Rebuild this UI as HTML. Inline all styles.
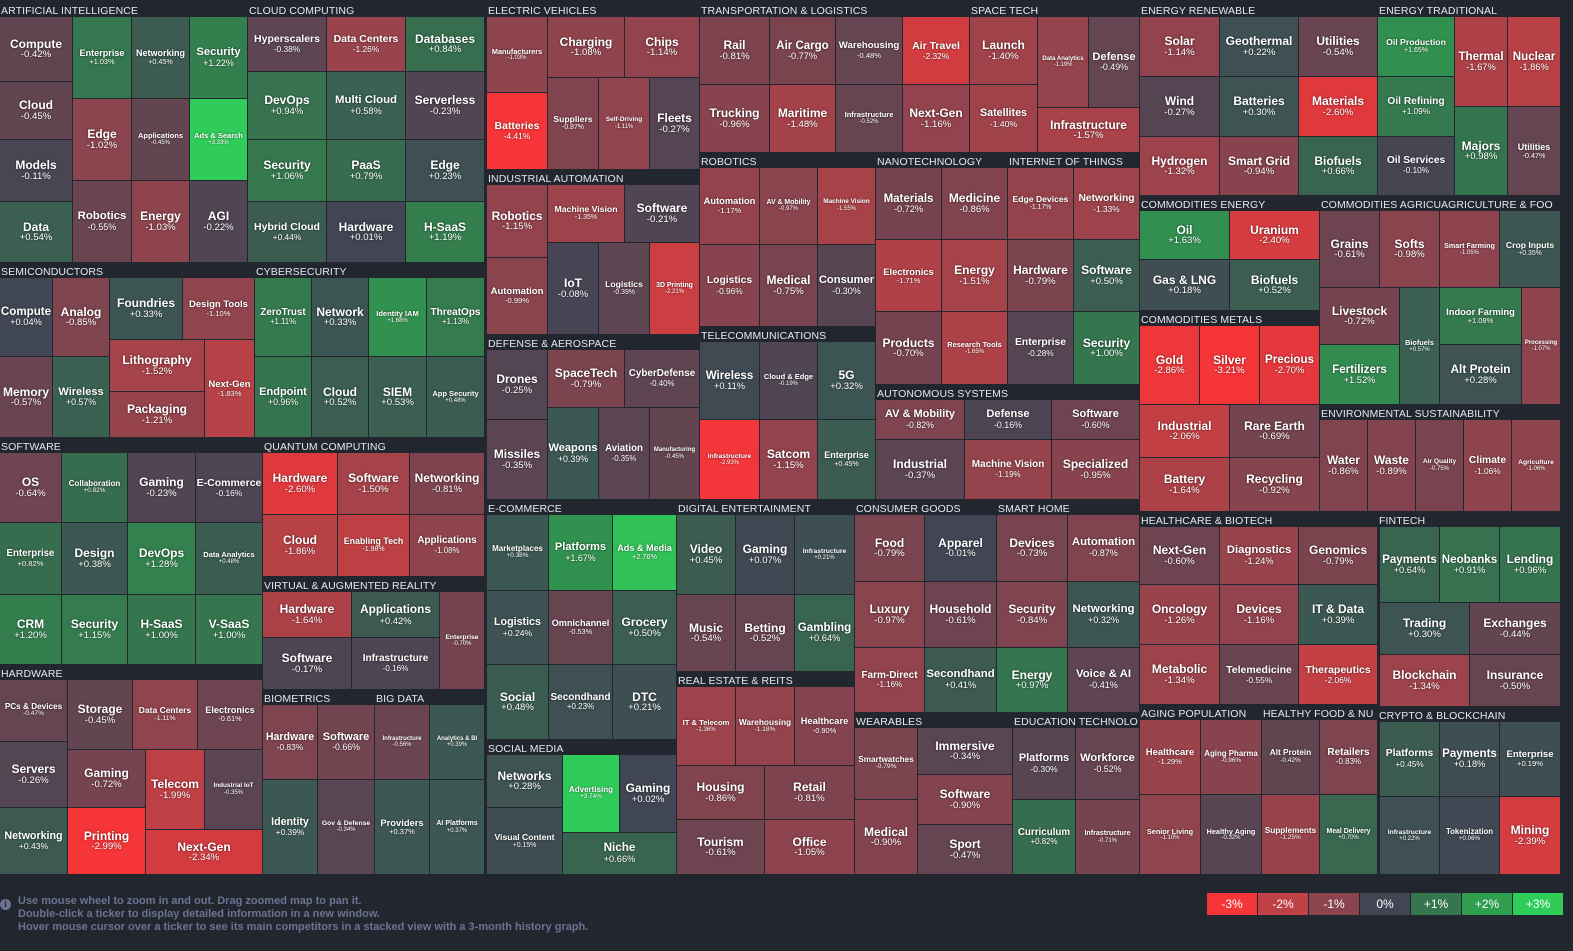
<!DOCTYPE html>
<html><head><meta charset="utf-8"><title>Sector Heatmap</title>
<style>
html,body{margin:0;padding:0;background:#22262f;width:1573px;height:951px;overflow:hidden;font-family:"Liberation Sans",sans-serif;}
#map{position:absolute;left:0;top:0;width:1573px;height:880px;}
.hdr{position:absolute;color:#e6e8ee;font-size:10.5px;line-height:15px;white-space:nowrap;overflow:hidden;letter-spacing:0.1px;}
.tile{position:absolute;display:flex;flex-direction:column;align-items:center;justify-content:center;color:#fff;text-align:center;overflow:hidden;text-shadow:0 0 2px rgba(0,0,0,0.6);box-sizing:border-box;}
.tile .n{font-weight:bold;white-space:nowrap;line-height:1.05;}
.tile .v{white-space:nowrap;line-height:1.05;}
#foot{position:absolute;left:18px;top:895px;color:#6c7391;font-size:11px;font-weight:bold;line-height:13px;}
#info{position:absolute;left:0px;top:899px;width:11px;height:11px;border-radius:50%;background:#6c7391;color:#22262f;font-size:9px;font-weight:bold;text-align:center;line-height:11px;font-family:"Liberation Serif",serif;}
#legend{position:absolute;left:1207px;top:893px;display:flex;gap:1px;}
#legend div{width:50px;height:22px;color:#fff;font-size:12px;text-align:center;line-height:22px;}
</style></head><body>
<div id="map"></div>
<div id="info">i</div>
<div id="foot">Use mouse wheel to zoom in and out. Drag zoomed map to pan it.<br>Double-click a ticker to display detailed information in a new window.<br>Hover mouse cursor over a ticker to see its main competitors in a stacked view with a 3-month history graph.</div>
<div id="legend"></div>
<script>
const sectorNames=["ARTIFICIAL INTELLIGENCE","CLOUD COMPUTING","SEMICONDUCTORS","CYBERSECURITY","SOFTWARE","QUANTUM COMPUTING","HARDWARE","VIRTUAL & AUGMENTED REALITY","BIOMETRICS","BIG DATA","ELECTRIC VEHICLES","INDUSTRIAL AUTOMATION","DEFENSE & AEROSPACE","E-COMMERCE","SOCIAL MEDIA","DIGITAL ENTERTAINMENT","REAL ESTATE & REITS","TRANSPORTATION & LOGISTICS","SPACE TECH","ROBOTICS","NANOTECHNOLOGY","INTERNET OF THINGS","TELECOMMUNICATIONS","AUTONOMOUS SYSTEMS","CONSUMER GOODS","SMART HOME","WEARABLES","EDUCATION TECHNOLO","ENERGY RENEWABLE","ENERGY TRADITIONAL","COMMODITIES ENERGY","COMMODITIES METALS","COMMODITIES AGRICU","AGRICULTURE & FOO","ENVIRONMENTAL SUSTAINABILITY","HEALTHCARE & BIOTECH","FINTECH","AGING POPULATION","HEALTHY FOOD & NU","CRYPTO & BLOCKCHAIN"];
const sectorBoxes=[[0,2],[248,2],[0,263],[255,263],[0,438],[263,438],[0,665],[263,577],[263,690],[375,690],[487,2],[487,170],[487,335],[487,500],[487,740],[677,500],[677,672],[700,2],[970,2],[700,153],[876,153],[1008,153],[700,327],[876,385],[855,500],[997,500],[855,713],[1013,713],[1140,2],[1378,2],[1140,196],[1140,311],[1320,196],[1440,196],[1320,405],[1140,512],[1378,512],[1140,705],[1262,705],[1378,707]];
const legendLabels=["-3%","-2%","-1%","0%","+1%","+2%","+3%"];
const legendValues=[-3,-2,-1,0,1,2,3];
const tileNames=[
"Compute","Cloud","Models","Data","Enterprise","Edge","Robotics","Networking","Applications","Energy","Security","Ads & Search","AGI",
"Hyperscalers","DevOps","Security","Hybrid Cloud","Data Centers","Multi Cloud","PaaS","Hardware","Databases","Serverless","Edge","H-SaaS",
"Compute","Memory","Analog","Wireless","Foundries","Design Tools","Lithography","Packaging","Next-Gen",
"ZeroTrust","Network","Identity IAM","ThreatOps","Endpoint","Cloud","SIEM","App Security",
"OS","Collaboration","Gaming","E-Commerce","Enterprise","Design","DevOps","Data Analytics","CRM","Security","H-SaaS","V-SaaS",
"Hardware","Software","Networking","Cloud","Enabling Tech","Applications",
"PCs & Devices","Servers","Networking","Storage","Data Centers","Electronics","Gaming","Printing","Telecom","Industrial IoT","Next-Gen",
"Hardware","Software","Applications","Infrastructure","Enterprise",
"Hardware","Software","Identity","Gov & Defense",
"Infrastructure","Analytics & BI","Providers","AI Platforms",
"Manufacturers","Batteries","Charging","Chips","Suppliers","Self-Driving","Fleets",
"Robotics","Automation","Machine Vision","Software","IoT","Logistics","3D Printing",
"Drones","Missiles","SpaceTech","CyberDefense","Weapons","Aviation","Manufacturing",
"Marketplaces","Platforms","Ads & Media","Logistics","Omnichannel","Grocery","Social","Secondhand","DTC",
"Networks","Visual Content","Advertising","Gaming","Niche",
"Video","Gaming","Infrastructure","Music","Betting","Gambling",
"IT & Telecom","Warehousing","Healthcare","Housing","Retail","Tourism","Office",
"Rail","Trucking","Air Cargo","Maritime","Warehousing","Infrastructure","Air Travel","Next-Gen",
"Launch","Satellites","Data Analytics","Defense","Infrastructure",
"Automation","AV & Mobility","Machine Vision","Logistics","Medical","Consumer",
"Materials","Medicine","Electronics","Energy","Products","Research Tools",
"Edge Devices","Networking","Hardware","Software","Enterprise","Security",
"Wireless","Cloud & Edge","5G","Infrastructure","Satcom","Enterprise",
"AV & Mobility","Defense","Software","Industrial","Machine Vision","Specialized",
"Food","Apparel","Luxury","Household","Farm-Direct","Secondhand",
"Devices","Automation","Security","Networking","Energy","Voice & AI",
"Smartwatches","Medical","Immersive","Software","Sport",
"Platforms","Workforce","Curriculum","Infrastructure",
"Solar","Geothermal","Utilities","Wind","Batteries","Materials","Hydrogen","Smart Grid","Biofuels",
"Oil Production","Oil Refining","Oil Services","Thermal","Nuclear","Majors","Utilities",
"Oil","Uranium","Gas & LNG","Biofuels",
"Gold","Silver","Precious","Industrial","Rare Earth","Battery","Recycling",
"Grains","Softs","Livestock","Fertilizers","Biofuels",
"Smart Farming","Crop Inputs","Indoor Farming","Alt Protein","Processing",
"Water","Waste","Air Quality","Climate","Agriculture",
"Next-Gen","Diagnostics","Genomics","Oncology","Devices","IT & Data","Metabolic","Telemedicine","Therapeutics",
"Payments","Neobanks","Lending","Trading","Exchanges","Blockchain","Insurance",
"Healthcare","Aging Pharma","Senior Living","Healthy Aging",
"Alt Protein","Retailers","Supplements","Meal Delivery",
"Platforms","Payments","Enterprise","Infrastructure","Tokenization","Mining"];
const tileChanges=[
-0.42,-0.45,-0.11,0.54,1.03,-1.02,-0.55,0.45,-0.45,-1.03,1.22,3.33,-0.22,
-0.38,0.94,1.06,0.44,-1.26,0.58,0.79,0.01,0.84,-0.23,0.23,1.19,
0.04,-0.57,-0.85,0.57,0.33,-1.10,-1.52,-1.21,-1.83,
1.11,0.33,1.68,1.13,0.96,0.52,0.53,0.48,
-0.64,0.82,-0.23,-0.16,0.82,0.38,1.28,0.48,1.20,1.15,1.00,1.00,
-2.60,-1.50,-0.81,-1.86,-1.98,-1.08,
-0.47,-0.26,0.43,-0.45,-1.11,-0.61,-0.72,-2.99,-1.99,-0.35,-2.34,
-1.64,-0.17,0.42,-0.16,-0.70,
-0.83,-0.66,0.39,-0.34,
-0.56,0.39,0.37,0.37,
-1.03,-4.41,-1.08,-1.14,-0.87,-1.11,-0.27,
-1.15,-0.99,-1.35,-0.21,-0.08,-0.39,-2.21,
-0.25,-0.35,-0.79,-0.40,0.39,-0.35,-0.45,
0.38,1.67,2.76,0.24,-0.53,0.50,0.48,0.23,0.21,
0.28,0.15,3.74,0.02,0.66,
0.45,0.07,0.21,-0.54,-0.52,0.64,
-1.36,-1.18,-0.90,-0.86,-0.81,-0.61,-1.05,
-0.81,-0.96,-0.77,-1.48,-0.48,-0.52,-2.32,-1.16,
-1.40,-1.40,-1.19,-0.49,-1.57,
-1.17,-0.97,-1.55,-0.96,-0.75,-0.30,
-0.72,-0.86,-1.71,-1.51,-0.70,-1.65,
-1.17,-1.33,-0.79,0.50,-0.28,1.00,
0.11,-0.19,0.32,-2.93,-1.15,0.45,
-0.82,-0.16,-0.60,-0.37,-1.19,-0.95,
-0.79,-0.01,-0.97,-0.61,-1.16,0.41,
-0.73,-0.87,-0.84,0.32,0.97,-0.41,
-0.79,-0.90,-0.34,-0.90,-0.47,
-0.30,-0.52,0.82,-0.71,
-1.14,0.22,-0.54,-0.27,0.30,-2.60,-1.32,-0.94,0.66,
1.65,1.09,-0.10,-1.67,-1.86,0.98,-0.47,
1.63,-2.40,0.18,0.52,
-2.86,-3.21,-2.70,-2.06,-0.69,-1.64,-0.92,
-0.61,-0.98,-0.72,1.52,0.57,
-1.05,0.35,1.08,0.28,-1.07,
-0.86,-0.89,-0.75,-1.06,-1.06,
-0.60,-1.24,-0.79,-1.26,-1.16,0.39,-1.34,-0.55,-2.06,
0.64,0.91,0.96,0.30,-0.44,-1.34,-0.50,
-1.29,-0.96,-1.10,-0.32,
-0.42,-0.83,-1.25,0.70,
0.45,0.18,0.19,0.22,0.06,-2.39];
const tileBoxes=[
[0,17,73,82],[0,82,73,140],[0,140,73,202],[0,202,73,263],[73,17,132,99],[73,99,132,181],[73,181,132,263],[132,17,190,99],[132,99,190,181],[132,181,190,263],[190,17,248,99],[190,99,248,181],[190,181,248,263],
[248,17,327,72],[248,72,327,140],[248,140,327,202],[248,202,327,263],[327,17,406,72],[327,72,406,140],[327,140,406,202],[327,202,406,263],[406,17,485,72],[406,72,485,140],[406,140,485,202],[406,202,485,263],
[0,278,53,357],[0,357,53,438],[53,278,110,357],[53,357,110,438],[110,278,183,340],[183,278,255,340],[110,340,205,392],[110,392,205,438],[205,340,255,438],
[255,278,312,357],[312,278,369,357],[369,278,427,357],[427,278,485,357],[255,357,312,438],[312,357,369,438],[369,357,427,438],[427,357,485,438],
[0,453,62,523],[62,453,128,523],[128,453,196,523],[196,453,263,523],[0,523,62,595],[62,523,128,595],[128,523,196,595],[196,523,263,595],[0,595,62,665],[62,595,128,665],[128,595,196,665],[196,595,263,665],
[263,453,338,515],[338,453,410,515],[410,453,485,515],[263,515,338,577],[338,515,410,577],[410,515,485,577],
[0,680,68,742],[0,742,68,808],[0,808,68,875],[68,680,133,750],[133,680,198,750],[198,680,263,750],[68,750,146,808],[68,808,146,875],[146,750,205,830],[205,750,263,830],[146,830,263,875],
[263,592,352,638],[263,638,352,690],[352,592,440,638],[352,638,440,690],[440,592,485,690],
[263,705,318,780],[318,705,375,780],[263,780,318,875],[318,780,375,875],
[375,705,430,780],[430,705,485,780],[375,780,430,875],[430,780,485,875],
[487,17,548,93],[487,93,548,170],[548,17,625,78],[625,17,700,78],[548,78,599,170],[599,78,650,170],[650,78,700,170],
[487,185,548,258],[487,258,548,335],[548,185,625,243],[625,185,700,243],[548,243,599,335],[599,243,650,335],[650,243,700,335],
[487,350,548,420],[487,420,548,500],[548,350,625,408],[625,350,700,408],[548,408,599,500],[599,408,650,500],[650,408,700,500],
[487,515,549,591],[549,515,613,591],[613,515,677,591],[487,591,549,665],[549,591,613,665],[613,591,677,665],[487,665,549,740],[549,665,613,740],[613,665,677,740],
[487,755,563,808],[487,808,563,875],[563,755,620,833],[620,755,677,833],[563,833,677,875],
[677,515,736,595],[736,515,795,595],[795,515,855,595],[677,595,736,672],[736,595,795,672],[795,595,855,672],
[677,687,736,766],[736,687,795,766],[795,687,855,766],[677,766,765,820],[765,766,855,820],[677,820,765,875],[765,820,855,875],
[700,17,770,85],[700,85,770,153],[770,17,836,85],[770,85,836,153],[836,17,903,85],[836,85,903,153],[903,17,970,85],[903,85,970,153],
[970,17,1038,85],[970,85,1038,153],[1038,17,1089,108],[1089,17,1140,108],[1038,108,1140,153],
[700,168,760,245],[760,168,818,245],[818,168,876,245],[700,245,760,327],[760,245,818,327],[818,245,876,327],
[876,168,942,240],[942,168,1008,240],[876,240,942,312],[942,240,1008,312],[876,312,942,385],[942,312,1008,385],
[1008,168,1074,240],[1074,168,1140,240],[1008,240,1074,312],[1074,240,1140,312],[1008,312,1074,385],[1074,312,1140,385],
[700,342,760,420],[760,342,818,420],[818,342,876,420],[700,420,760,500],[760,420,818,500],[818,420,876,500],
[876,400,965,440],[965,400,1052,440],[1052,400,1140,440],[876,440,965,500],[965,440,1052,500],[1052,440,1140,500],
[855,515,925,582],[925,515,997,582],[855,582,925,648],[925,582,997,648],[855,648,925,713],[925,648,997,713],
[997,515,1068,582],[1068,515,1140,582],[997,582,1068,648],[1068,582,1140,648],[997,648,1068,713],[1068,648,1140,713],
[855,728,918,800],[855,800,918,875],[918,728,1013,775],[918,775,1013,825],[918,825,1013,875],
[1013,728,1076,800],[1076,728,1140,800],[1013,800,1076,875],[1076,800,1140,875],
[1140,17,1220,77],[1220,17,1299,77],[1299,17,1378,77],[1140,77,1220,137],[1220,77,1299,137],[1299,77,1378,137],[1140,137,1220,196],[1220,137,1299,196],[1299,137,1378,196],
[1378,17,1455,77],[1378,77,1455,137],[1378,137,1455,196],[1455,17,1508,107],[1508,17,1561,107],[1455,107,1508,196],[1508,107,1561,196],
[1140,211,1230,260],[1230,211,1320,260],[1140,260,1230,311],[1230,260,1320,311],
[1140,326,1200,405],[1200,326,1260,405],[1260,326,1320,405],[1140,405,1230,458],[1230,405,1320,458],[1140,458,1230,512],[1230,458,1320,512],
[1320,211,1380,288],[1380,211,1440,288],[1320,288,1400,345],[1320,345,1400,405],[1400,288,1440,405],
[1440,211,1500,288],[1500,211,1561,288],[1440,288,1522,345],[1440,345,1522,405],[1522,288,1561,405],
[1320,420,1368,512],[1368,420,1416,512],[1416,420,1464,512],[1464,420,1512,512],[1512,420,1561,512],
[1140,527,1220,585],[1220,527,1299,585],[1299,527,1378,585],[1140,585,1220,645],[1220,585,1299,645],[1299,585,1378,645],[1140,645,1220,705],[1220,645,1299,705],[1299,645,1378,705],
[1380,527,1440,603],[1440,527,1500,603],[1500,527,1561,603],[1380,603,1470,655],[1470,603,1561,655],[1380,655,1470,707],[1470,655,1561,707],
[1140,720,1201,795],[1201,720,1262,795],[1140,795,1201,875],[1201,795,1262,875],
[1262,720,1320,795],[1320,720,1378,795],[1262,795,1320,875],[1320,795,1378,875],
[1380,722,1440,797],[1440,722,1500,797],[1500,722,1561,797],[1380,797,1440,875],[1440,797,1500,875],[1500,797,1561,875]];

const stops=[[246,53,56],[191,64,69],[139,68,78],[65,69,84],[53,118,78],[47,158,79],[48,204,90]];
function colorFor(v){
  let t=Math.max(-3,Math.min(3,v))+3;
  let i=Math.min(5,Math.floor(t)), f=t-i;
  const a=stops[i], b=stops[i+1];
  return 'rgb('+a.map((c,k)=>Math.round(c+(b[k]-c)*f)).join(',')+')';
}
function fmt(v){return (v>=0?'+':'')+v.toFixed(2)+'%';}
const map=document.getElementById('map');
sectorNames.forEach((s,i)=>{
  const h=document.createElement('div');
  h.className='hdr';
  
  
  h.style.left=(sectorBoxes[i][0]+1)+'px';
  h.style.top=(sectorBoxes[i][1]+2)+'px';
  h.textContent=s;
  map.appendChild(h);
});
tileNames.forEach((n,i)=>{
  const b=tileBoxes[i], v=tileChanges[i];
  const w=b[2]-b[0], h=b[3]-b[1];
  const d=document.createElement('div');
  d.className='tile';
  
  
  d.style.left=b[0]+'px';d.style.top=b[1]+'px';
  d.style.width=(w-1)+'px';d.style.height=(h-1)+'px';
  d.style.background=colorFor(v);
  let fs=Math.min(12,(w-6)/(n.length*0.58), h/3.6);
  fs=Math.max(6,fs);
  const vs=Math.max(6,Math.min(10,fs*0.8));
  d.innerHTML='<div class="n" style="font-size:'+fs.toFixed(1)+'px">'+n.replace(/&/g,'&amp;')+'</div><div class="v" style="font-size:'+vs.toFixed(1)+'px">'+fmt(v)+'</div>';
  map.appendChild(d);
});
const lg=document.getElementById('legend');
legendLabels.forEach((l,i)=>{
  const d=document.createElement('div');
  
  
  d.style.background=colorFor(legendValues[i]);
  d.textContent=l;
  lg.appendChild(d);
});
</script>
</body></html>
